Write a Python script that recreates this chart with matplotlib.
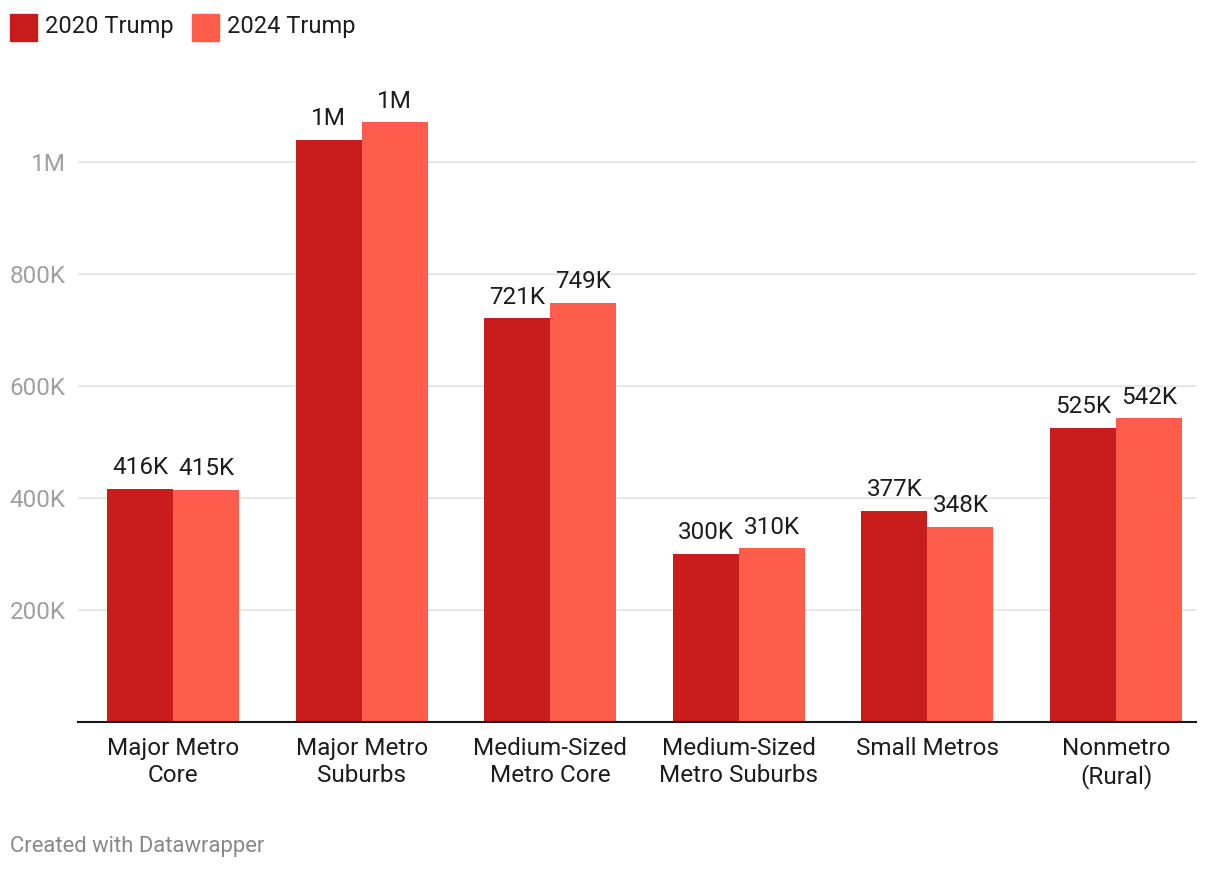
import matplotlib
matplotlib.use("Agg")
import matplotlib.pyplot as plt
import matplotlib.patches as patches
import numpy as np

categories = ["Major Metro\nCore", "Major Metro\nSuburbs", "Medium-Sized\nMetro Core",
              "Medium-Sized\nMetro Suburbs", "Small Metros", "Nonmetro\n(Rural)"]
trump_2020 = [416, 1039, 721, 300, 377, 525]   # thousands
trump_2024 = [415, 1071, 749, 310, 348, 542]
labels_2020 = ["416K", "1M", "721K", "300K", "377K", "525K"]
labels_2024 = ["415K", "1M", "749K", "310K", "348K", "542K"]
series_names = ["2020 Trump", "2024 Trump"]
yticks = [200, 400, 600, 800, 1000]
ytick_labels = ["200K", "400K", "600K", "800K", "1M"]

c2020 = "#c71e1d"
c2024 = "#ff5d4b"

plt.rcParams["font.family"] = ["Roboto", "DejaVu Sans"]

W, H = 1220, 872
fig = plt.figure(figsize=(W / 100, H / 100), dpi=100)
ax = fig.add_axes([78 / W, (H - 722) / H, (1196 - 78) / W, (722 - 106) / H])

x = np.arange(len(categories))
bw = 0.35
b1 = ax.bar(x - bw / 2, trump_2020, bw, color=c2020, zorder=2)
b2 = ax.bar(x + bw / 2, trump_2024, bw, color=c2024, zorder=2)

for bars, labs in ((b1, labels_2020), (b2, labels_2024)):
    for rect, lab in zip(bars, labs):
        ax.annotate(lab, (rect.get_x() + rect.get_width() / 2, rect.get_height()),
                    xytext=(0, 7), textcoords="offset points",
                    ha="center", va="bottom", fontsize=17.5, color="#1d1d1d")

ax.set_xlim(-0.504, 5.424)
ax.set_ylim(0, 1100)
ax.set_yticks(yticks)
ax.set_yticklabels(ytick_labels)
ax.set_xticks(x)
ax.set_xticklabels(categories, fontsize=17.5, color="#1d1d1d", linespacing=1.2)
ax.tick_params(axis="y", length=0, pad=9, labelsize=17.5, labelcolor="#a0a0a0")
ax.tick_params(axis="x", length=0, pad=11)
ax.grid(axis="y", color="#e3e3e3", linewidth=1.2, zorder=0)
for s in ("top", "right", "left"):
    ax.spines[s].set_visible(False)
ax.spines["bottom"].set_color("#1a1a1a")
ax.spines["bottom"].set_linewidth(1.5)
ax.spines["bottom"].set_zorder(3)

# legend
for i, (name, col) in enumerate(zip(series_names, (c2020, c2024))):
    x0 = [10, 192][i]
    fig.patches.append(patches.Rectangle((x0 / W, (H - 41) / H), 27 / W, 27 / H,
                                         transform=fig.transFigure, color=col))
    fig.text((x0 + 35) / W, (H - 27) / H, name, fontsize=17, color="#1d1d1d",
             va="center", ha="left")

fig.text(10 / W, (H - 846) / H, "Created with Datawrapper", fontsize=15.8,
         color="#888888", va="center", ha="left")

fig.savefig("out.png", dpi=100, facecolor="white")
